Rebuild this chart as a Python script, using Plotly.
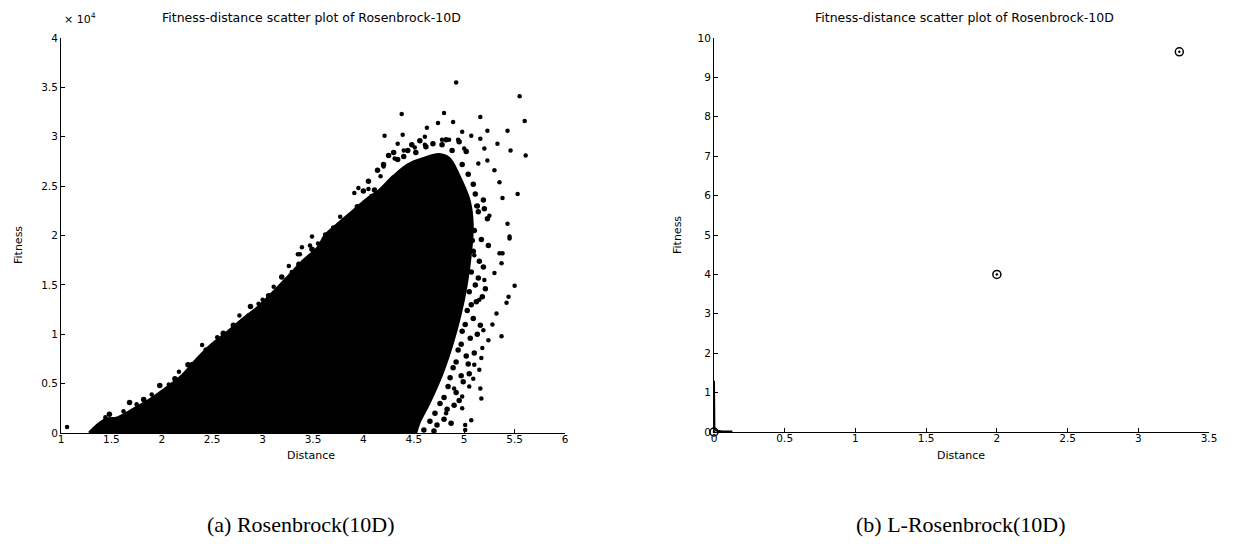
import plotly.graph_objects as go

# ---------------- data ----------------
# (a) Rosenbrock(10D): outline of the dense, solid core of the cloud
core_distance = [1.28, 1.35, 1.45, 1.55, 1.65, 1.75, 1.90, 2.05, 2.20, 2.35, 2.50, 2.65,
                 2.80, 2.95, 3.10, 3.25, 3.40, 3.55, 3.62, 3.75, 3.90, 4.05, 4.15, 4.30,
                 4.45, 4.60, 4.75, 4.85, 4.95, 5.05, 5.08, 5.06, 5.02, 4.96, 4.88, 4.78,
                 4.65, 4.55, 4.52]
core_fitness_e4 = [0.00, 0.07, 0.14, 0.15, 0.20, 0.26, 0.35, 0.46, 0.58, 0.75, 0.90, 1.02,
                   1.15, 1.27, 1.42, 1.58, 1.74, 1.88, 2.00, 2.12, 2.25, 2.38, 2.45, 2.60,
                   2.72, 2.78, 2.82, 2.78, 2.60, 2.35, 2.10, 1.80, 1.50, 1.20, 0.90, 0.60,
                   0.30, 0.10, 0.00]

# (a) isolated points around the cloud
outlier_distance = [4.92, 5.55, 5.60, 5.61, 5.53, 4.38, 5.16, 4.80, 4.89, 4.74, 4.21, 4.39,
                    4.34, 4.63, 4.98, 5.23, 5.43, 5.46, 5.07, 5.16, 5.33, 4.78, 4.85, 4.94,
                    4.61, 4.61, 4.51, 4.40, 4.31, 4.20, 4.17, 4.05, 3.91, 3.95, 3.77, 3.62,
                    3.49, 3.35, 5.30, 5.35, 5.38, 5.43, 5.45, 5.38, 5.23, 5.20, 5.00, 5.14,
                    5.50, 5.44, 5.42, 5.32, 5.37, 5.24, 5.19, 5.17, 5.15, 5.17, 5.16, 5.07,
                    5.01, 5.01, 4.98, 5.05, 5.37, 5.35, 5.45, 5.30, 5.20, 5.15, 5.18, 5.10,
                    5.09, 1.06, 1.90, 2.40, 2.77, 2.86, 2.96, 3.11, 3.26, 3.29, 3.37, 3.39,
                    3.47, 1.44, 1.34, 2.17, 2.07, 1.62, 1.75, 2.30, 2.55, 3.00, 3.55, 3.70,
                    4.08, 5.12, 5.25, 5.28, 5.10, 4.98, 4.90, 4.82]
outlier_fitness_e4 = [3.55, 3.41, 3.16, 2.81, 2.42, 3.23, 3.20, 3.24, 3.15, 3.14, 3.01, 3.02,
                      2.93, 3.09, 3.05, 3.06, 3.06, 2.86, 3.01, 2.98, 2.93, 2.97, 2.97, 2.97,
                      3.00, 2.92, 2.89, 2.86, 2.78, 2.70, 2.60, 2.47, 2.43, 2.48, 2.19, 2.01,
                      1.99, 1.81, 2.66, 2.54, 2.38, 2.12, 1.97, 1.82, 2.76, 2.88, 2.88, 2.73,
                      1.49, 1.38, 1.32, 1.21, 0.98, 0.94, 1.04, 0.76, 0.64, 0.35, 0.45, 0.13,
                      0.08, 0.03, 0.37, 0.47, 1.72, 1.82, 1.99, 1.62, 1.55, 1.35, 0.86, 0.69,
                      0.55, 0.06, 0.39, 0.89, 1.19, 1.19, 1.31, 1.48, 1.69, 1.63, 1.81, 1.88,
                      1.90, 0.16, 0.04, 0.62, 0.49, 0.22, 0.29, 0.70, 0.97, 1.35, 1.92, 2.08,
                      2.40, 2.30, 2.20, 1.10, 1.80, 0.25, 0.45, 0.20]

# (a) densely packed points on the ragged edge of the core
fringe_distance = [5.11, 5.19, 5.14, 5.23, 5.10, 5.17, 5.24, 5.09, 5.15, 5.07, 5.14, 5.21,
                   5.05, 5.12, 5.03, 5.09, 5.16, 4.98, 5.06, 4.94, 5.02, 5.10, 4.89, 4.97,
                   4.84, 4.92, 4.99, 4.76, 4.83, 4.90, 4.66, 4.73, 4.80,
                   4.25, 4.44, 4.56, 4.69, 4.88, 4.98, 5.04, 5.09, 4.34, 4.14, 4.52, 4.78,
                   1.48, 1.68, 1.82, 1.98, 2.13, 2.26, 2.44, 2.61, 2.71, 2.88, 3.06, 3.19,
                   3.36, 3.49, 3.66, 3.81, 3.94, 4.11,
                   5.13, 5.20, 5.08, 5.19, 5.11, 5.18, 5.07, 5.01, 5.13, 4.97, 5.04, 4.92,
                   4.86, 5.05, 4.80, 4.95, 4.71, 4.87, 4.60, 4.70, 4.62, 4.48, 4.30, 4.95,
                   5.02, 4.82, 4.40, 4.20, 4.05, 4.00]
fringe_fitness_e4 = [2.42, 2.36, 2.24, 2.17, 2.05, 1.96, 1.90, 1.84, 1.74, 1.63, 1.57, 1.46,
                     1.43, 1.33, 1.24, 1.16, 1.09, 1.03, 0.96, 0.84, 0.78, 0.81, 0.66, 0.58,
                     0.47, 0.41, 0.52, 0.30, 0.24, 0.28, 0.12, 0.08, 0.14,
                     2.81, 2.86, 2.96, 2.93, 2.86, 2.72, 2.62, 2.52, 2.77, 2.66, 2.84, 2.92,
                     0.19, 0.31, 0.34, 0.48, 0.55, 0.69, 0.84, 1.01, 1.09, 1.28, 1.39, 1.58,
                     1.71, 1.86, 1.99, 2.13, 2.29, 2.46,
                     2.30, 2.27, 1.95, 1.68, 1.50, 1.38, 1.30, 1.10, 1.00, 0.90, 0.70, 0.72,
                     0.56, 0.60, 0.36, 0.33, 0.20, 0.10, 0.03, 0.02, 2.90, 2.92, 2.84, 2.95,
                     2.85, 2.97, 2.80, 2.72, 2.55, 2.45]

# (b) L-Rosenbrock(10D): the three visible samples
lrosen_distance = [0.0, 2.0, 3.29]
lrosen_fitness = [0.0, 4.0, 9.65]
# (b) the dense trail of samples hugging the axes near the origin
lrosen_trail_distance = [0.0, 0.0, 0.003, 0.02, 0.06, 0.13]
lrosen_trail_fitness = [1.3, 0.25, 0.06, 0.03, 0.015, 0.01]

left_xticks = [1, 1.5, 2, 2.5, 3, 3.5, 4, 4.5, 5, 5.5, 6]
left_yticks = [0, 0.5, 1, 1.5, 2, 2.5, 3, 3.5, 4]
right_xticks = [0, 0.5, 1, 1.5, 2, 2.5, 3, 3.5]
right_yticks = [0, 1, 2, 3, 4, 5, 6, 7, 8, 9, 10]

title_text = "Fitness-distance scatter plot of Rosenbrock-10D"

# ---------------- figure ----------------
# the page body adds an 8 px margin, so the figure is drawn 8 px in from the corner
OFF = 8
W, H = 1233 - OFF, 544 - OFF
def px(x):
    return (x - OFF) / W
def py(y):
    return 1 - (y - OFF) / H

fig = go.Figure()

fig.add_trace(go.Scatter(x=core_distance, y=core_fitness_e4, mode="lines",
                         fill="toself", fillcolor="black",
                         line=dict(color="black", width=3, shape="spline"),
                         xaxis="x", yaxis="y", hoverinfo="skip", showlegend=False))
fig.add_trace(go.Scatter(x=fringe_distance, y=fringe_fitness_e4, mode="markers",
                         marker=dict(color="black", size=5.5),
                         xaxis="x", yaxis="y", showlegend=False, cliponaxis=False))
fig.add_trace(go.Scatter(x=outlier_distance, y=outlier_fitness_e4, mode="markers",
                         marker=dict(color="black", size=4.5),
                         xaxis="x", yaxis="y", showlegend=False, cliponaxis=False))

fig.add_trace(go.Scatter(x=lrosen_trail_distance, y=lrosen_trail_fitness, mode="lines",
                         line=dict(color="black", width=2),
                         xaxis="x2", yaxis="y2", showlegend=False, cliponaxis=False))
fig.add_trace(go.Scatter(x=lrosen_distance, y=lrosen_fitness, mode="markers",
                         marker=dict(symbol="circle-open-dot", color="black", size=8,
                                     line=dict(color="black", width=1.5)),
                         xaxis="x2", yaxis="y2", showlegend=False, cliponaxis=False))

tickfont = dict(family="DejaVu Sans", size=10.5, color="black")
axis_common = dict(showgrid=False, zeroline=False, showline=True, linecolor="black",
                   linewidth=1, ticks="inside", ticklen=4, tickcolor="black",
                   mirror=False, automargin=False, tickfont=tickfont)

fig.update_layout(
    width=W, height=H, margin=dict(l=0, r=0, t=0, b=0, autoexpand=False),
    paper_bgcolor="white", plot_bgcolor="white",
    xaxis=dict(domain=[px(61), px(565)], range=[1, 6], tickvals=left_xticks,
               ticktext=[f"{v:g}" for v in left_xticks], anchor="y",
               ticklabelstandoff=-4, **axis_common),
    yaxis=dict(domain=[py(433), py(38)], range=[0, 4], tickvals=left_yticks,
               ticktext=[f"{v:g}" for v in left_yticks], anchor="x", **axis_common),
    xaxis2=dict(domain=[px(714), px(1209)], range=[0, 3.5], tickvals=right_xticks,
                ticktext=[f"{v:g}" for v in right_xticks], anchor="y2",
                ticklabelstandoff=-4, **axis_common),
    yaxis2=dict(domain=[py(432), py(38)], range=[0, 10], tickvals=right_yticks,
                ticktext=[f"{v:g}" for v in right_yticks], anchor="x2", **axis_common),
)

sans = dict(family="DejaVu Sans", size=11, color="black")
title_font = dict(family="DejaVu Sans", size=12.5, color="black")
serif = dict(family="Liberation Serif", size=22, color="black")
ann = [
    dict(x=px(311), y=1, text=title_text, font=title_font, yanchor="top"),
    dict(x=px(964), y=1, text=title_text, font=title_font, yanchor="top"),
    dict(x=px(62), y=py(18), text="× 10<sup>4</sup>", font=sans, xanchor="left"),
    dict(x=px(311), y=py(455), text="Distance", font=sans),
    dict(x=px(961), y=py(455), text="Distance", font=sans),
    dict(x=px(18), y=py(245), text="Fitness", font=sans, textangle=-90),
    dict(x=px(677), y=py(235), text="Fitness", font=sans, textangle=-90),
    dict(x=px(301), y=py(524), text="(a) Rosenbrock(10D)", font=serif),
    dict(x=px(961), y=py(524), text="(b) L-Rosenbrock(10D)", font=serif),
]
for a in ann:
    a.setdefault("xanchor", "center")
    a.setdefault("yanchor", "middle")
    fig.add_annotation(xref="paper", yref="paper", showarrow=False, **a)

fig.write_html("out.html")
